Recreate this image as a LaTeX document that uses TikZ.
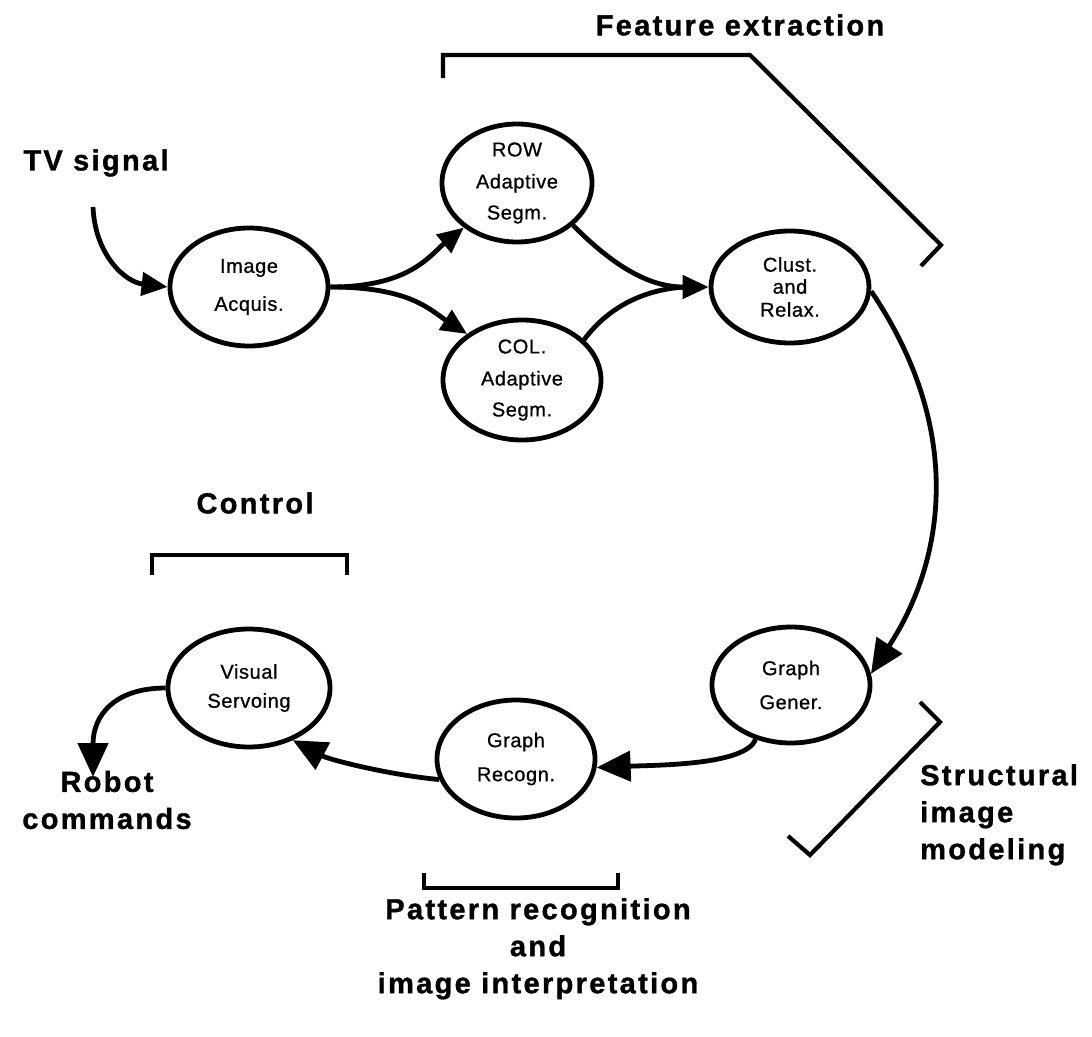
\documentclass[tikz,border=0pt]{standalone}
\usepackage{fontspec}
\setmainfont{Liberation Sans}
\newfontfamily\headfont[LetterSpace=8,FakeBold=1.2]{Liberation Sans}
\newfontfamily\stagefont[LetterSpace=3,FakeBold=0.8]{Liberation Sans}
\usetikzlibrary{arrows.meta,shapes.geometric}

\begin{document}
\begin{tikzpicture}[x=1pt,y=-1pt,
  stage/.style={draw, line width=4.8pt, ellipse, inner sep=0pt,
    minimum width=158pt, minimum height=118pt, align=center,
    font=\stagefont\fontsize{20}{24}\selectfont},
  heading/.style={font=\headfont\bfseries\fontsize{29}{37}\selectfont, align=center, inner sep=0pt},
  flow/.style={line width=4.8pt},
  bracket/.style={line width=4.2pt, line join=miter},
  bigtip/.style={-{Triangle[length=34pt,width=30pt]}},
  smalltip/.style={-{Triangle[length=26pt,width=23pt]}}]
\useasboundingbox (0,0) rectangle (1092,1036);

% processing stages
\node[stage] (acq) at (249,287) {Image\\[14pt]Acquis.};
\node[stage, minimum width=150pt] (row) at (517,183) {ROW\\[8pt]Adaptive\\[7pt]Segm.};
\node[stage, minimum height=120pt] (col) at (522,380) {COL.\\[8pt]Adaptive\\[7pt]Segm.};
\node[stage, minimum height=112pt] (clu) at (790,287) {Clust.\\[-2pt]and\\[-1pt]Relax.};
\node[stage, minimum height=116pt] (gen) at (791,685) {Graph\\[10pt]Gener.};
\node[stage] (rec) at (516,759) {Graph\\[10pt]Recogn.};
\node[stage, minimum width=162pt] (vis) at (249,688) {Visual\\[5pt]Servoing};

% free ends of the input and output arrows
\coordinate (tv) at (93,207);
\coordinate (robot) at (93,777);

% labels
\node[heading] (lfeat) at (740,25) {Feature extraction};
\node[heading] (ltv) at (96,163) {TV signal};
\node[heading] (lctrl) at (255,503) {Control};
\node[heading, align=left, anchor=north west] (lstruct) at (920,764) {Structural\\image\\modeling};
\node[heading] (lrobot) at (107,800) {Robot\\commands};
\node[heading, anchor=north] (lpat) at (538,898) {Pattern recognition\\and\\image interpretation};

% brackets
\draw[bracket] (443,78) -- (443,55) -- (750,55) -- (941,245) -- (921,266);
\draw[bracket] (152,575) -- (152,555) -- (347,555) -- (347,575);
\draw[bracket] (920,702) -- (940,722) -- (810,855) -- (788,836);
\draw[bracket] (424,873) -- (424,888) -- (618,888) -- (618,873);

% data flow
\draw[flow, smalltip] (tv) .. controls (95,255) and (125,282) .. (acq.west);
\draw[flow, smalltip] (acq.east) .. controls (410,287) and (430,255) .. (row.-140);
\draw[flow, smalltip] (acq.east) .. controls (410,287) and (430,310) .. (col.140);
\draw[flow, smalltip] (row.-37) .. controls (625,278) and (660,287) .. (clu.west);
\draw[flow, shorten >=18pt] (col.33) .. controls (615,298) and (660,287) .. (clu.west);
\draw[flow, bigtip] (clu.-3) .. controls (965,430) and (945,560) .. (gen.8);
\draw[flow, bigtip] (gen.-123) .. controls (745,765) and (660,765) .. (rec.-6);
\draw[flow, bigtip] (rec.195) .. controls (390,775) and (330,760) .. (vis.-50);
\draw[flow, bigtip] (vis.180) .. controls (115,688) and (93,715) .. (robot);
\end{tikzpicture}
\end{document}
